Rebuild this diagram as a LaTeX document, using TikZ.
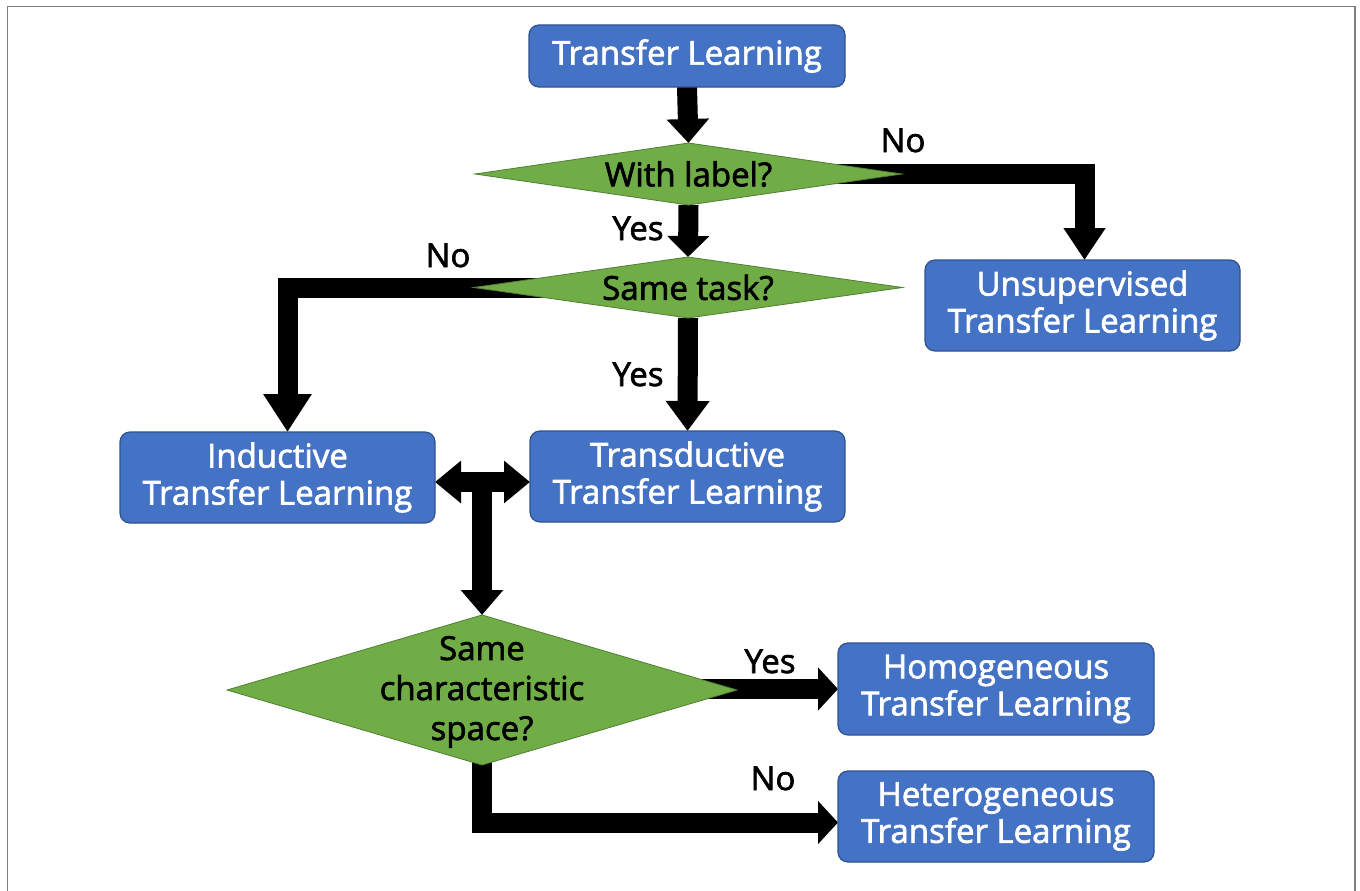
\documentclass[tikz,border=0pt]{standalone}
\usepackage{fontspec}
\setmainfont{Open Sans}
\newfontfamily\flowfont{Open Sans}[FakeBold=2]
\usetikzlibrary{arrows.meta,shapes.geometric,backgrounds,calc}

\definecolor{boxblue}{HTML}{4472C4}
\definecolor{boxedge}{HTML}{2F528F}
\definecolor{decgreen}{HTML}{70AD47}
\definecolor{decedge}{HTML}{507E32}
\definecolor{framegray}{HTML}{7F7F7F}

\tikzset{
  flowtext/.style={font=\flowfont\fontsize{33}{37}\selectfont, align=center},
  stepbox/.style={draw=boxedge, line width=1.2pt, fill=boxblue, rounded corners=10pt,
    text=white, flowtext, inner sep=0pt, outer sep=0pt},
  decision/.style={diamond, draw=decedge, line width=0.8pt, fill=decgreen,
    inner sep=0pt, outer sep=0pt},
  dectext/.style={flowtext, text=black},
  answer/.style={font=\flowfont\fontsize{33}{37}\selectfont, text=black, anchor=base, inner sep=0pt},
  flow/.style={line width=20pt, line join=miter, draw=black},
}
\newcommand{\tipsz}[2]{{Triangle[length=#1pt,width=#2pt]}}

\begin{document}
\begin{tikzpicture}[x=1pt, y=-1pt]
\useasboundingbox (0,0) rectangle (1360,891);

% process boxes
\node[stepbox, minimum width=316pt, minimum height=62pt] (tl) at (687,56) {Transfer Learning};
\node[stepbox, minimum width=315pt, minimum height=91pt] (unsup) at (1082.5,305.5) {Unsupervised\\Transfer Learning};
\node[stepbox, minimum width=315pt, minimum height=91pt] (ind) at (277.5,477.5) {Inductive\\Transfer Learning};
\node[stepbox, minimum width=315pt, minimum height=91pt] (trd) at (687.5,476.5) {Transductive\\Transfer Learning};
\node[stepbox, minimum width=316pt, minimum height=92pt] (hom) at (996,689) {Homogeneous\\Transfer Learning};
\node[stepbox, minimum width=316pt, minimum height=91pt] (het) at (996,816.5) {Heterogeneous\\Transfer Learning};

% decisions
\node[decision, minimum width=427pt, minimum height=62pt] (lab) at (688.5,174) {};
\node[dectext] at (lab.center) {With label?};
\node[decision, minimum width=429pt, minimum height=61pt] (task) at (688,287.5) {};
\node[dectext] at (task.center) {Same task?};
\node[decision, minimum width=510pt, minimum height=150pt] (space) at (482,690) {};
\node[dectext, font=\flowfont\fontsize{33}{40}\selectfont] at ([yshift=-2pt]space.center) {Same\\characteristic\\space?};

% junction between the two learning settings
\coordinate (tee) at (482,482);

% page, frame and connectors, kept behind the shapes
\begin{scope}[on background layer]
  \fill[white] (0,0) rectangle (1360,891);
  \draw[framegray, line width=1.5pt] (7.5,900) -- (7.5,6.5) -- (1355,6.5) -- (1355,900);
  \draw[flow, -\tipsz{24}{41}] (tl.south) -- (lab.north);
  \draw[flow, -\tipsz{21}{41}] (lab.south) -- (task.north);
  \draw[flow, -\tipsz{32}{40}] (lab.center) -| ([xshift=2pt]unsup.north);
  \draw[flow, -\tipsz{38}{46}] (task.center) -| ([xshift=10pt]ind.north);
  \draw[flow, -\tipsz{30}{42}] (task.south) -- (trd.north);
  \draw[flow, {Triangle[length=26pt,width=41pt]}-{Triangle[length=26pt,width=41pt]}]
    (ind.east |- tee) -- (trd.west |- tee);
  \draw[flow, -\tipsz{25}{41}] (tee) -- (space.north);
  \draw[flow, -\tipsz{20}{42}] ([yshift=1pt]space.center) -- ([yshift=1pt]space.center -| hom.west);
  \draw[flow, -\tipsz{20}{42}] (space.center) |- ([yshift=-6pt]het.west);
\end{scope}

% branch answers
\node[answer] (no1) at (903,152) {No};
\node[answer] (yes1) at (638,240) {Yes};
\node[answer] (no2) at (448,267) {No};
\node[answer] (yes2) at (638,386) {Yes};
\node[answer] (yes3) at (770,673) {Yes};
\node[answer] (no3) at (773,790) {No};
\end{tikzpicture}
\end{document}
